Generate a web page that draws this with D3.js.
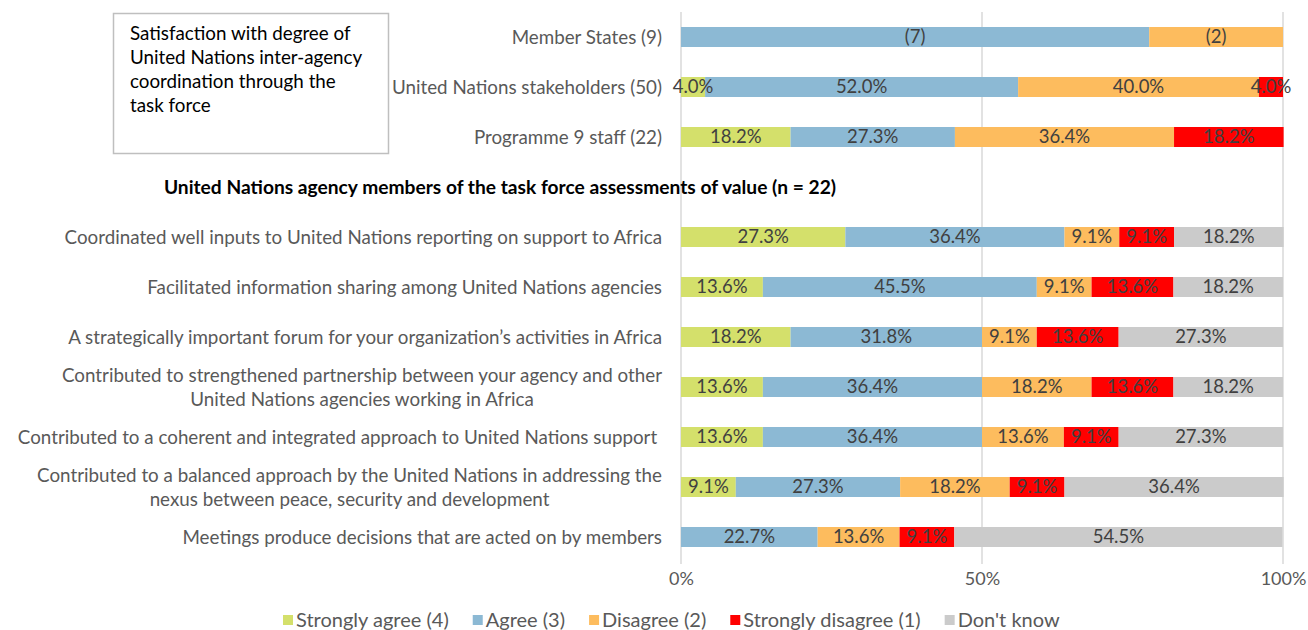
<!DOCTYPE html>
<html>
<head>
<meta charset="utf-8">
<script src="https://cdn.jsdelivr.net/npm/d3@7"></script>
<style>
  body { margin: 0; background: #fff; }
  text { font-family: Lato, "Open Sans", sans-serif; }
</style>
</head>
<body>
<div class="chart"></div>
<script>
const responses = ['Strongly agree (4)', 'Agree (3)', 'Disagree (2)', 'Strongly disagree (1)', "Don't know"];
const colors = ['#d4e06b', '#8cb9d4', '#fdbc5e', '#ff0000', '#cbcbcb'];

// top block: satisfaction
const topGroups = ['Member States (9)', 'United Nations stakeholders (50)', 'Programme 9 staff (22)'];
const memberCounts = [0, 7, 2, 0, 0];
const stakeholders = [4.0, 52.0, 40.0, 4.0, 0];
const staff = [18.2, 27.3, 36.4, 18.2, 0];

const header = 'United Nations agency members of the task force assessments of value (n = 22)';
const boxText = ['Satisfaction with degree of', 'United Nations inter-agency', 'coordination through the', 'task force'];

// bottom block: agency members
const statements = [
  ['Coordinated well inputs to United Nations reporting on support to Africa'],
  ['Facilitated information sharing among United Nations agencies'],
  ['A strategically important forum for your organization\u2019s activities in Africa'],
  ['Contributed to strengthened partnership between your agency and other', 'United Nations agencies working in Africa'],
  ['Contributed to a coherent and integrated approach to United Nations support\u00a0'],
  ['Contributed to a balanced approach by the United Nations in addressing the', 'nexus between peace, security and development'],
  ['Meetings produce decisions that are acted on by members']
];
const stronglyAgree = [27.3, 13.6, 18.2, 13.6, 13.6, 9.1, 0];
const agree = [36.4, 45.5, 31.8, 36.4, 36.4, 27.3, 22.7];
const disagree = [9.1, 9.1, 9.1, 18.2, 13.6, 18.2, 13.6];
const stronglyDisagree = [9.1, 13.6, 13.6, 13.6, 9.1, 9.1, 9.1];
const dontKnow = [18.2, 18.2, 27.3, 18.2, 27.3, 36.4, 54.5];

const ticks = [0, 50, 100];

const W = 1308, H = 630;
const memberTotal = d3.sum(memberCounts);

const rows = [];
rows.push({ key: 'r0', label: [topGroups[0]], vals: memberCounts.map(c => c / memberTotal * 100), text: memberCounts.map(c => c ? `(${c})` : '') });
rows.push({ key: 'r1', label: [topGroups[1]], vals: stakeholders, text: stakeholders.map(v => v ? v.toFixed(1) + '%' : '') });
rows.push({ key: 'r2', label: [topGroups[2]], vals: staff, text: staff.map(v => v ? v.toFixed(1) + '%' : '') });
statements.forEach((s, i) => {
  const vals = [stronglyAgree[i], agree[i], disagree[i], stronglyDisagree[i], dontKnow[i]];
  rows.push({ key: 's' + i, label: s, vals, text: vals.map(v => v ? v.toFixed(1) + '%' : '') });
});

const slots = ['r0', 'r1', 'r2', 'header'].concat(statements.map((s, i) => 's' + i));

const svg = d3.select('.chart')
  .append('svg')
  .attr('width', W)
  .attr('height', H);

const x = d3.scaleLinear().domain([0, 100]).range([681, 1283]);
const y = d3.scalePoint().domain(slots).range([37, 537]);
const barH = 20;

// gridlines
svg.append('g')
  .selectAll('line')
  .data(ticks)
  .enter()
  .append('line')
  .attr('x1', d => x(d)).attr('x2', d => x(d))
  .attr('y1', 12).attr('y2', 564)
  .attr('stroke', '#d9d9d9')
  .attr('stroke-width', 1.5);

// x axis labels
const xAxis = d3.axisBottom(x)
  .tickValues(ticks)
  .tickFormat(d => d + '%')
  .tickSize(0)
  .tickPadding(0);

svg.append('g')
  .attr('transform', 'translate(0, 572)')
  .call(xAxis)
  .call(g => g.select('.domain').remove())
  .selectAll('text')
  .style('font-family', 'Lato, sans-serif')
  .style('font-size', '18px')
  .attr('fill', '#595959');

// bars
const rowG = svg.selectAll('.row')
  .data(rows)
  .enter()
  .append('g')
  .attr('class', 'row')
  .attr('transform', d => `translate(0, ${y(d.key)})`);

rowG.each(function (r) {
  const g = d3.select(this);
  let acc = 0;
  const segs = r.vals.map((v, i) => {
    const s = { x0: acc, x1: acc + v, i, t: r.text[i] };
    acc += v;
    return s;
  }).filter(s => s.x1 > s.x0);

  g.selectAll('rect')
    .data(segs)
    .enter()
    .append('rect')
    .attr('x', d => x(d.x0))
    .attr('width', d => x(d.x1) - x(d.x0))
    .attr('y', -barH / 2)
    .attr('height', barH)
    .attr('fill', d => colors[d.i]);

  g.selectAll('text.val')
    .data(segs)
    .enter()
    .append('text')
    .attr('class', 'val')
    .attr('x', d => (x(d.x0) + x(d.x1)) / 2)
    .attr('y', 0)
    .attr('dy', '0.35em')
    .attr('text-anchor', 'middle')
    .style('font-size', '18.5px')
    .attr('fill', '#404040')
    .text(d => d.t);

  // category label, lines centred on each other, block right-aligned
  const lab = g.append('text')
    .style('font-size', '18.8px')
    .attr('fill', '#595959');
  const lineH = 24;
  r.label.forEach((l, k) => {
    lab.append('tspan')
      .attr('y', (k - (r.label.length - 1) / 2) * lineH)
      .attr('dy', '0.35em')
      .text(l);
  });
  let wMax = 0;
  lab.selectAll('tspan').each(function () { wMax = Math.max(wMax, this.getComputedTextLength()); });
  lab.attr('text-anchor', 'middle');
  lab.selectAll('tspan').attr('x', 662 - wMax / 2);
});

// header
svg.append('text')
  .attr('x', 500)
  .attr('y', y('header'))
  .attr('dy', '0.35em')
  .attr('text-anchor', 'middle')
  .style('font-size', '19.2px')
  .style('font-weight', 'bold')
  .attr('fill', '#000')
  .text(header);

// text box
svg.append('rect')
  .attr('x', 113.5).attr('y', 13.5)
  .attr('width', 275).attr('height', 140)
  .attr('fill', 'none')
  .attr('stroke', '#bfbfbf')
  .attr('stroke-width', 1.5);

svg.append('g')
  .selectAll('text')
  .data(boxText)
  .enter()
  .append('text')
  .attr('x', 130)
  .attr('y', (d, i) => 33 + i * 24)
  .attr('dy', '0.35em')
  .style('font-size', '18.8px')
  .attr('fill', '#000')
  .text(d => d);

// legend
const legend = svg.append('g').attr('transform', 'translate(283, 620)');
let lx = 0;
responses.forEach((r, i) => {
  const item = legend.append('g').attr('transform', `translate(${lx}, 0)`);
  item.append('rect')
    .attr('x', 0).attr('y', -5)
    .attr('width', 10).attr('height', 10)
    .attr('fill', colors[i]);
  const t = item.append('text')
    .attr('x', 13)
    .attr('dy', '0.35em')
    .style('font-size', '20px')
    .attr('fill', '#595959')
    .text(r);
  lx += 13 + t.node().getComputedTextLength() + 24;
});
</script>
</body>
</html>
